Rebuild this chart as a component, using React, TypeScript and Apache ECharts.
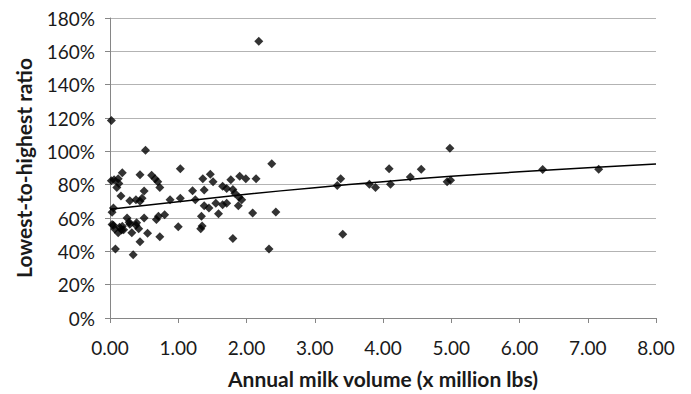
import React, { useEffect, useRef } from "react";
import * as echarts from "echarts";

const xTickValues = [0, 1, 2, 3, 4, 5, 6, 7, 8];
const yTickValues = [0, 20, 40, 60, 80, 100, 120, 140, 160, 180];

// [annual milk volume (million lbs), lowest-to-highest ratio (%)]
const lowVolumePoints: [number, number][] = [
  [0.02, 118.5], [0.02, 82.3], [0.06, 83], [0.12, 83.6], [0.18, 87.2], [0.13, 80.7],
  [0.1, 78.3], [0.16, 73.2], [0.05, 66], [0.03, 63.4], [0.03, 56.1], [0.07, 53.4],
  [0.12, 51.2], [0.05, 55.6], [0.08, 41.4], [0.18, 55], [0.2, 53], [0.25, 60],
  [0.29, 56.3], [0.28, 57.5], [0.32, 51.2], [0.38, 55.6], [0.42, 53.6], [0.39, 57.1],
  [0.5, 60], [0.55, 50.8], [0.44, 45.7], [0.68, 59.1], [0.71, 61], [0.8, 62],
  [0.73, 48.8], [1.0, 54.7], [0.34, 37.9], [0.29, 70.3], [0.38, 70.9], [0.47, 71.8],
  [0.44, 70], [0.5, 76.2], [0.52, 100.7], [0.44, 86], [0.61, 85.6], [0.66, 83.6],
  [0.7, 81.7], [0.73, 78.3], [0.88, 70.9], [1.03, 71.8], [1.03, 89.5], [0.17, 52.8],
  [0.14, 54.5],
];
const midVolumePoints: [number, number][] = [
  [1.21, 76.4], [1.36, 83.6], [1.47, 86.2], [1.51, 81.7], [1.38, 76.8], [1.65, 79.1],
  [1.77, 83], [1.71, 77.7], [1.8, 77.1], [1.9, 85], [1.99, 83.6], [2.14, 83.6],
  [1.83, 74.8], [1.89, 72.4], [1.25, 70.9], [1.38, 67.3], [1.45, 66], [1.55, 68.9],
  [1.65, 67.9], [1.71, 68.9], [1.88, 67.3], [1.93, 70.9], [2.09, 63], [1.34, 61],
  [1.35, 55.2], [1.33, 53.6], [1.59, 62.6], [1.8, 47.7], [2.33, 41.4], [2.37, 92.5],
  [2.43, 63.6], [2.18, 166],
];
const highVolumePoints: [number, number][] = [
  [3.33, 79.5], [3.38, 83.6], [3.41, 50.2], [3.8, 80.3], [3.89, 78.3], [4.09, 89.5],
  [4.11, 80.3], [4.4, 84.6], [4.56, 89.2], [4.98, 101.9], [4.94, 81.7], [4.99, 82.7],
  [6.34, 89.1], [7.16, 89.2],
];
// trend line
const trendX = [0, 1, 2, 3, 4, 5, 6, 7, 8];
const trendY = [65.3, 69.8, 74.2, 78.2, 81.8, 85, 87.7, 90.2, 92.4];

const FONT = "Lato";

export default function App() {
  const ref = useRef<HTMLDivElement>(null);
  useEffect(() => {
    if (!ref.current) return;
    const chart = echarts.init(ref.current, null, { renderer: "svg" });
    const points = [...lowVolumePoints, ...midVolumePoints, ...highVolumePoints];
    chart.setOption({
      animation: false,
      backgroundColor: "#ffffff",
      grid: { left: 110, right: 35, top: 18, bottom: 70, containLabel: false },
      xAxis: {
        type: "value",
        min: xTickValues[0],
        max: xTickValues[xTickValues.length - 1],
        interval: 1,
        name: "Annual milk volume (x million lbs)",
        nameLocation: "middle",
        nameGap: 50,
        nameTextStyle: { fontFamily: FONT, fontSize: 21, fontWeight: "bold", color: "#1a1a1a" },
        axisLine: { lineStyle: { color: "#868686", width: 1 } },
        axisTick: { show: true, inside: false, length: 5, lineStyle: { color: "#868686" } },
        axisLabel: {
          fontFamily: FONT, fontSize: 19, color: "#1a1a1a", margin: 20,
          formatter: (v: number) => v.toFixed(2),
        },
        splitLine: { show: false },
      },
      yAxis: {
        type: "value",
        min: yTickValues[0],
        max: yTickValues[yTickValues.length - 1],
        interval: 20,
        name: "Lowest-to-highest ratio",
        nameLocation: "middle",
        nameGap: 76,
        nameRotate: 90,
        nameTextStyle: { fontFamily: FONT, fontSize: 21, fontWeight: "bold", color: "#1a1a1a" },
        axisLine: { show: true, lineStyle: { color: "#868686", width: 1 } },
        axisTick: { show: true, inside: false, length: 5, lineStyle: { color: "#868686" } },
        axisLabel: {
          fontFamily: FONT, fontSize: 19, color: "#1a1a1a", margin: 15,
          formatter: (v: number) => `${v}%`,
        },
        splitLine: { show: true, lineStyle: { color: "#b3b3b3", width: 1 } },
      },
      series: [
        {
          type: "scatter",
          data: points,
          symbol: "diamond",
          symbolSize: 9,
          itemStyle: { color: "#000000" },
          z: 3,
        },
        {
          type: "line",
          data: trendX.map((x, i) => [x, trendY[i]]),
          smooth: true,
          showSymbol: false,
          lineStyle: { color: "#000000", width: 1.5 },
          z: 2,
        },
      ],
    });
    return () => chart.dispose();
  }, []);
  return <div ref={ref} style={{ width: 691, height: 394, position: "absolute", left: 0, top: 0 }} />;
}
